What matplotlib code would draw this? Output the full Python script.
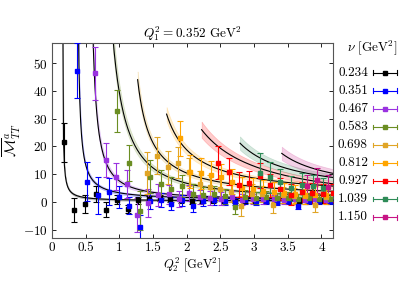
import numpy as np
import matplotlib.pyplot as plt

plt.rcParams['font.family'] = 'serif'
plt.rcParams['font.serif'] = ['cmr10']
plt.rcParams['mathtext.fontset'] = 'cm'
plt.rcParams['axes.formatter.use_mathtext'] = True
plt.rcParams['font.size'] = 9.5

# nu values (legend) and colours
nu_labels = ["0.234", "0.351", "0.467", "0.583", "0.698", "0.812", "0.927", "1.039", "1.150"]
colors = ["#000000", "#0000ff", "#9a32e0", "#6b8e23", "#e0a526", "#ffa500", "#ff0000", "#2e8b57", "#c71585"]

# lattice data points: Q2^2, M_TT^a, error
q_0234 = [0.17, 0.33, 0.49, 0.65, 0.80, 0.96, 1.12, 1.28, 1.44, 1.60, 1.75, 1.91, 2.07, 2.23, 2.39, 2.55, 2.71, 2.87, 3.02, 3.18, 3.34, 3.50, 3.66, 3.82, 3.98, 4.13]
m_0234 = [21.5, -2.9, -0.7, 2.8, -2.9, 0.7, -2.5, 0.6, 1.0, 1.4, 0.9, 0.6, 0.3, 0.4, 0.5, 0.3, 0.2, 0.3, 0.3, 0.4, 0.2, 0.3, 0.3, 0.2, 0.3, 0.2]
e_0234 = [7.0, 4.2, 3.3, 3.0, 2.7, 1.6, 1.5, 1.3, 1.2, 1.1, 1.0, 0.9, 0.9, 0.8, 0.8, 0.8, 0.7, 0.7, 0.7, 0.7, 0.6, 0.6, 0.6, 0.6, 0.6, 0.6]

q_0351 = [0.37, 0.525, 0.68, 0.84, 0.99, 1.145, 1.30, 1.46, 1.62, 1.77, 1.93, 2.09, 2.24, 2.40, 2.56, 2.71, 2.87, 3.03, 3.18, 3.34, 3.50, 3.65, 3.81, 3.97, 4.12]
m_0351 = [47.3, 7.3, 2.3, 3.7, 1.7, -1.4, -9.2, 0.3, 0.8, -0.6, 0.5, -1.5, 0.3, 0.5, 0.2, 0.1, 0.6, 0.2, 0.3, 0.0, 0.3, -1.5, 0.2, 0.3, 0.2]
e_0351 = [10.0, 7.0, 6.5, 5.0, 4.0, 3.0, 4.5, 3.0, 2.5, 2.5, 2.0, 2.0, 1.8, 1.5, 1.5, 1.3, 1.3, 1.2, 1.2, 1.1, 1.1, 1.0, 1.0, 1.0, 1.0]

q_0467 = [0.64, 0.80, 0.95, 1.11, 1.26, 1.42, 1.57, 1.73, 1.89, 2.04, 2.20, 2.35, 2.51, 2.67, 2.82, 2.98, 3.13, 3.29, 3.45, 3.60, 3.76, 3.91, 4.07]
m_0467 = [46.3, 15.1, 9.1, 6.4, -4.7, -0.3, 2.5, 2.7, 1.0, 3.2, 1.6, 1.5, 1.2, 1.8, 0.8, 1.1, 0.9, 1.0, 0.8, 0.9, 0.8, 0.9, 0.8]
e_0467 = [9.5, 6.0, 5.0, 5.0, 6.0, 5.0, 4.0, 3.5, 3.0, 3.0, 2.5, 2.5, 2.2, 2.0, 2.0, 1.8, 1.7, 1.6, 1.5, 1.5, 1.4, 1.4, 1.3]

q_0583 = [0.97, 1.145, 1.30, 1.46, 1.62, 1.77, 1.93, 2.09, 2.24, 2.40, 2.56, 2.71, 2.87, 3.03, 3.18, 3.34, 3.50, 3.65, 3.81, 3.97, 4.12]
m_0583 = [32.7, 13.9, -3.2, 9.1, 6.5, 4.5, 5.7, 3.0, 2.5, 2.8, 2.0, -2.0, 1.8, 1.5, 1.9, 1.3, 1.5, 1.2, 1.4, 1.2, 1.1]
e_0583 = [7.5, 6.5, 7.0, 6.0, 5.0, 4.5, 4.0, 3.5, 3.0, 3.0, 2.8, 2.5, 2.3, 2.2, 2.0, 2.0, 1.9, 1.8, 1.7, 1.7, 1.6]

q_0698 = [1.41, 1.56, 1.72, 1.87, 2.03, 2.19, 2.34, 2.50, 2.65, 2.81, 2.97, 3.12, 3.28, 3.43, 3.59, 3.75, 3.90, 4.06]
m_0698 = [10.5, 16.7, 12.5, 14.1, 10.8, 6.5, 5.5, 4.5, 3.5, -1.5, 3.0, 2.8, -1.0, 2.5, 2.2, 2.0, -1.2, 1.8]
e_0698 = [7.5, 6.5, 6.0, 5.5, 5.0, 4.5, 4.0, 4.0, 3.5, 3.5, 3.5, 3.0, 3.0, 3.0, 2.8, 2.8, 2.5, 2.5]

q_0812 = [1.90, 2.05, 2.21, 2.36, 2.51, 2.67, 2.82, 2.98, 3.13, 3.29, 3.44, 3.60, 3.75, 3.91, 4.06]
m_0812 = [22.9, 10.9, 10.3, 9.7, 9.1, 7.3, 5.0, 4.5, 4.0, 3.5, 3.2, 2.8, 2.6, 2.5, 2.3]
e_0812 = [6.2, 6.0, 5.5, 5.0, 4.5, 4.5, 4.0, 4.0, 3.8, 3.6, 3.5, 3.3, 3.2, 3.1, 3.0]

q_0927 = [2.46, 2.62, 2.77, 2.93, 3.08, 3.24, 3.39, 3.55, 3.71, 3.86, 4.02, 4.17]
m_0927 = [14.1, 10.9, 6.1, 6.7, 9.4, 6.0, 4.5, 2.5, 3.5, 3.2, 3.0, 3.1]
e_0927 = [6.0, 5.0, 4.5, 4.5, 4.5, 4.2, 4.0, 3.8, 3.6, 3.5, 3.4, 3.3]

q_1039 = [3.08, 3.24, 3.39, 3.55, 3.71, 3.87, 4.02]
m_1039 = [10.5, 8.8, 7.0, 4.9, 6.1, 5.6, 4.9]
e_1039 = [7.0, 5.5, 5.0, 4.5, 4.2, 4.0, 3.8]

q_1150 = [3.78, 3.94, 4.10]
m_1150 = [5.8, 7.7, 5.5]
e_1150 = [4.0, 4.5, 4.0]

q_data = [q_0234, q_0351, q_0467, q_0583, q_0698, q_0812, q_0927, q_1039, q_1150]
m_data = [m_0234, m_0351, m_0467, m_0583, m_0698, m_0812, m_0927, m_1039, m_1150]
e_data = [e_0234, e_0351, e_0467, e_0583, e_0698, e_0812, e_0927, e_1039, e_1150]

# fit curves: M = off + amp / (Q2^2 - pole)^pow, drawn from fit_start on
fit_pole = [0.15, 0.362, 0.521, 0.599, 1.067, 1.30, 1.30, 2.00, 2.60]
fit_amp = [0.42, 1.76, 2.75, 9.75, 8.73, 12.04, 26.4, 15.36, 12.04]
fit_pow = [1.0, 1.0, 1.25, 1.5, 1.0, 1.0, 1.0, 1.0, 1.0]
fit_off = [0.3, 0.5, 0.6, 0.8, 1.0, 1.5, -2.7, 1.7, 2.6]
fit_start = [0.155, 0.385, 0.60, 0.90, 1.27, 1.70, 2.22, 2.79, 3.41]
band_rel = [0.03, 0.05, 0.07, 0.07, 0.06, 0.07, 0.10, 0.10, 0.12]

fig = plt.figure(figsize=(4.07, 2.85), dpi=100)
ax = fig.add_axes([0.128, 0.165, 0.690, 0.684])

for i in range(len(nu_labels)):
    xs = np.linspace(fit_start[i], 4.3, 300)
    ys = fit_off[i] + fit_amp[i] / (xs - fit_pole[i]) ** fit_pow[i]
    dy = band_rel[i] * np.abs(ys) + 0.3
    ax.fill_between(xs, ys - dy, ys + dy, color=colors[i], alpha=0.2, lw=0.5, zorder=1)
    ax.plot(xs, ys, color="black", lw=0.8, zorder=2)

for i in range(len(nu_labels)):
    ax.errorbar(q_data[i], m_data[i], yerr=e_data[i], fmt="s", color=colors[i], ms=3.3,
                elinewidth=0.8, capsize=2, capthick=0.8, zorder=3)

ax.set_xlim(0, 4.17)
ax.set_ylim(-13, 57.2)
ax.set_xticks([0, 0.5, 1, 1.5, 2, 2.5, 3, 3.5, 4])
ax.set_xticklabels(["0", "0.5", "1", "1.5", "2", "2.5", "3", "3.5", "4"])
ax.set_yticks([-10, 0, 10, 20, 30, 40, 50])
ax.tick_params(direction="in", top=True, right=True, length=3, width=0.6, pad=3)
for s in ax.spines.values():
    s.set_color("#555555")
    s.set_linewidth(0.8)

ax.set_xlabel(r"$Q_2^2\ [\mathrm{GeV}^2]$", labelpad=1, fontsize=9)
ax.set_ylabel(r"$\overline{\mathcal{M}}^{a}_{TT}$", labelpad=0, fontsize=10.5)
ax.set_title(r"$Q_1^2 = 0.352\ \mathrm{GeV}^2$", pad=4, fontsize=9.5)

# legend drawn by hand on the right
fig.text(397 / 407, 1 - 48 / 285, r"$\nu\ [\mathrm{GeV}^2]$", ha="right", va="center")
for i in range(len(nu_labels)):
    yy = 1 - (72.5 + 18.1 * i) / 285
    fig.text(368 / 407, yy, nu_labels[i], ha="right", va="center")
    fig.add_artist(plt.Line2D([373 / 407, 397 / 407], [yy, yy], color=colors[i], lw=0.8))
    fig.add_artist(plt.Line2D([385 / 407], [yy], marker="s", ms=3.3, color=colors[i]))
    for xe in (373 / 407, 397 / 407):
        fig.add_artist(plt.Line2D([xe, xe], [yy - 0.008, yy + 0.008], color=colors[i], lw=0.8))

fig.savefig("out.png", dpi=100)
